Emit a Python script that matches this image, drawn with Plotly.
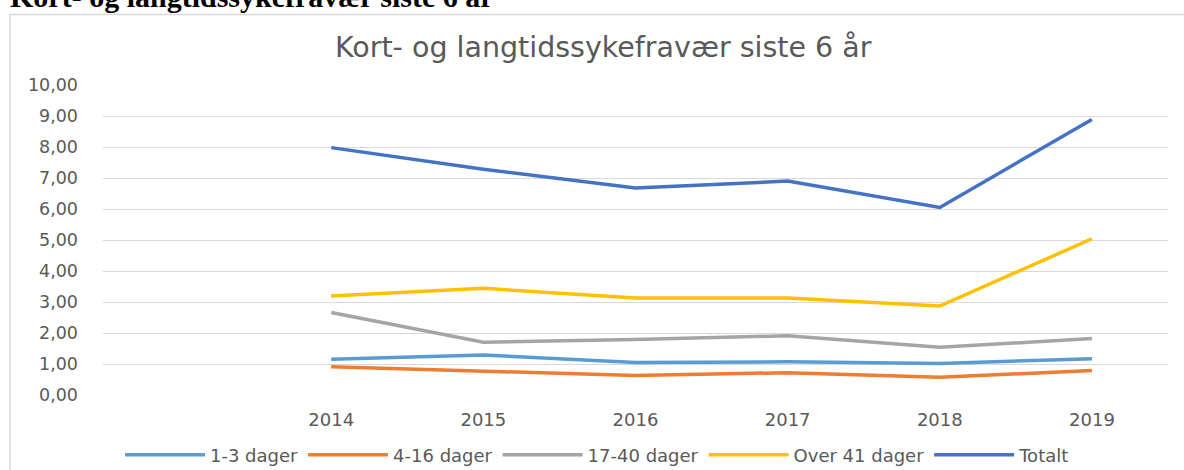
import plotly.graph_objects as go

years = ["2014", "2015", "2016", "2017", "2018", "2019"]
categories = [" "] + years
series_names = ["1-3 dager", "4-16 dager", "17-40 dager", "Over 41 dager", "Totalt"]
v_1_3 = [1.15, 1.29, 1.05, 1.07, 1.02, 1.17]
v_4_16 = [0.91, 0.78, 0.63, 0.72, 0.57, 0.79]
v_17_40 = [2.66, 1.70, 1.79, 1.91, 1.54, 1.82]
v_over41 = [3.19, 3.44, 3.13, 3.13, 2.87, 5.04]
v_totalt = [7.98, 7.28, 6.68, 6.90, 6.05, 8.89]
colors = ["#5B9BD5", "#ED7D31", "#A5A5A5", "#FFC000", "#4472C4"]
values = [v_1_3, v_4_16, v_17_40, v_over41, v_totalt]

W, H = 1184, 470
L, R, T, B = 103, 16, 85, 75
pw, ph = W - L - R, H - T - B

def px(x):
    return (x - L) / pw

def py(y):
    return (H - B - y) / ph

FONT = "DejaVu Sans"
GREY = "#595959"

fig = go.Figure()
for name, vals, c in zip(series_names, values, colors):
    fig.add_trace(go.Scatter(x=years, y=vals, name=name, mode="lines",
                             line=dict(color=c, width=3.5)))

fig.update_layout(
    width=W, height=H,
    margin=dict(l=L, r=R, t=T, b=B, autoexpand=False),
    paper_bgcolor="white", plot_bgcolor="white",
    separators=", ",
    font=dict(family=FONT, size=17, color=GREY),
    showlegend=True,
    legend=dict(orientation="h", x=px(120), xanchor="left", y=py(455), yanchor="middle",
                font=dict(family=FONT, size=18, color=GREY), traceorder="normal",
                itemwidth=80),
    xaxis=dict(type="category", categoryorder="array", categoryarray=categories,
               range=[-0.5, 6.5], showgrid=False, zeroline=False, showline=False,
               ticks="", ticklabelstandoff=12,
               tickfont=dict(family=FONT, size=18, color=GREY), fixedrange=True),
    yaxis=dict(range=[0, 10], dtick=1, tickformat=".2f", showgrid=True,
               gridcolor="#D9D9D9", gridwidth=1, zeroline=False, showline=False,
               ticks="", ticklabelstandoff=24,
               tickfont=dict(family=FONT, size=17.5, color=GREY)),
    shapes=[dict(type="rect", xref="paper", yref="paper",
                 x0=px(10), x1=px(1200), y0=py(480), y1=py(14.5),
                 line=dict(color="#D9D9D9", width=1.5), fillcolor="rgba(0,0,0,0)", layer="below")],
    annotations=[
        dict(text="Kort- og langtidssykefravær siste 6 år", xref="paper", yref="paper",
             x=px(603), y=py(48), xanchor="center", yanchor="middle", showarrow=False,
             font=dict(family=FONT, size=28.5, color=GREY)),
        dict(text="<b>Kort- og langtidssykefravær siste 6 år</b>", xref="paper", yref="paper",
             x=px(8), y=py(-3), xanchor="left", yanchor="middle", showarrow=False,
             font=dict(family="Liberation Serif", size=30, color="#000000")),
    ],
)

fig.write_html("out.html", config={"displayModeBar": False},
               post_script="document.body.style.margin='0';document.body.style.overflow='hidden';")
